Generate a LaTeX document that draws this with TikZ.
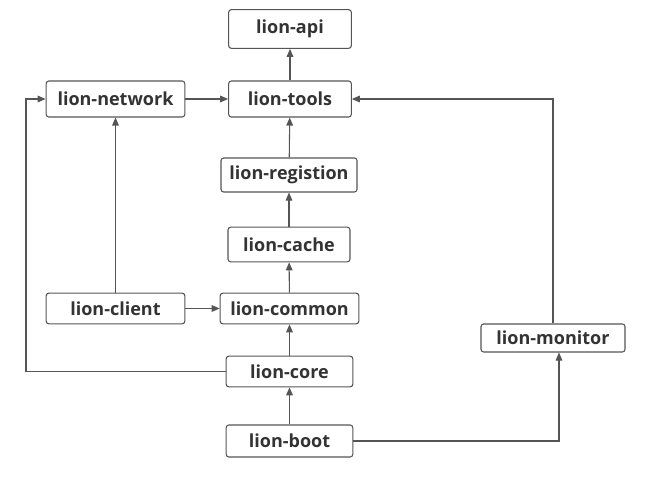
\documentclass[tikz,border=0pt]{standalone}
\usepackage{fontspec}
\setmainfont{Open Sans}
\usepackage{tikz}
\usetikzlibrary{arrows.meta,positioning}
\definecolor{lnline}{HTML}{555555}
\definecolor{lntext}{HTML}{333333}
\tikzset{
  modbox/.style = {rectangle, draw=lnline, fill=white, rounded corners=2pt, line width=0.8pt,
                   inner sep=1pt, font=\fontsize{13.5}{15}\selectfont\bfseries\color{lntext}},
  dep/.style    = {-{Triangle[length=6pt,width=5pt]}, line width=0.8pt, lnline},
}

\begin{document}
\begin{tikzpicture}[x=0.75pt,y=-0.75pt]
\useasboundingbox (0,0) rectangle (647,485);
% central column
\node[modbox, minimum width=92pt,  minimum height=29pt]   (api)       at (290,29)  {lion-api};
\node[modbox, minimum width=92pt,  minimum height=27pt]   (tools)     at (290,99)  {lion-tools};
\node[modbox, minimum width=102pt, minimum height=25.5pt] (registion) at (289,175) {lion-registion};
\node[modbox, minimum width=91.5pt,minimum height=26pt]   (cache)     at (289,244.5) {lion-cache};
\node[modbox, minimum width=104pt, minimum height=23pt]   (common)    at (289.5,308.5) {lion-common};
\node[modbox, minimum width=95pt,  minimum height=23pt]   (core)      at (289.5,371.5) {lion-core};
\node[modbox, minimum width=95pt,  minimum height=24pt]   (boot)      at (289.5,441) {lion-boot};

% side modules
\node[modbox, minimum width=104pt, minimum height=27pt]   (network)   at (115.5,99)  {lion-network};
\node[modbox, minimum width=104pt, minimum height=23pt]   (client)    at (115.5,308.5) {lion-client};
\node[modbox, minimum width=108pt, minimum height=21pt]   (monitor)   at (553,338)  {lion-monitor};

\coordinate (leftrail) at (26,0);

% dependencies
\draw[dep] (tools) -- (api);
\draw[dep] (network) -- (tools);
\draw[dep] (registion) -- (tools);
\draw[dep] (cache) -- (registion);
\draw[dep] (common) -- (cache);
\draw[dep] (client) -- (common);
\draw[dep] (client) -- (network);
\draw[dep] (core) -- (common);
\draw[dep] (boot) -- (core);
\draw[dep] (core.west) -- (core.west -| leftrail) |- (network.west);
\draw[dep] (boot.east) -| ([xshift=4.5pt]monitor.south);
\draw[dep] (monitor.north) |- (tools.east);
\end{tikzpicture}
\end{document}
